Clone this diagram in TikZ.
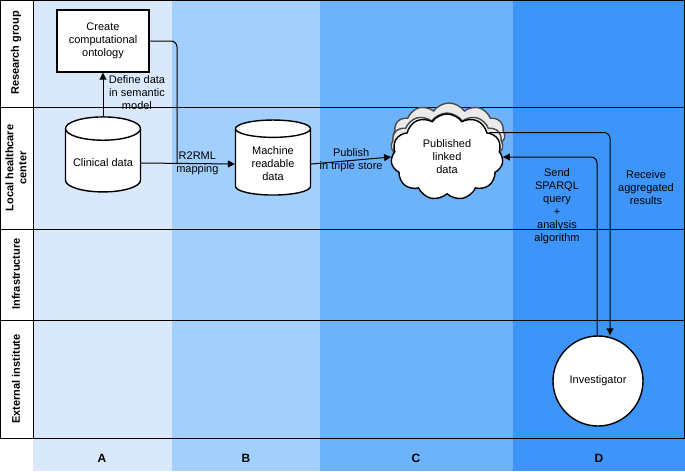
\documentclass[tikz,border=0pt]{standalone}
\usepackage{fontspec}
\setmainfont{Liberation Sans}
\usetikzlibrary{positioning,shapes.geometric,shapes.symbols,arrows.meta}
\definecolor{colA}{HTML}{DAE8FC}
\definecolor{colB}{HTML}{A3CFFD}
\definecolor{colC}{HTML}{6DB3FB}
\definecolor{colD}{HTML}{3D95FA}
\tikzset{
  lbl/.style={font=\fontsize{11}{13}\selectfont,align=center},
  lane/.style={font=\bfseries\fontsize{11}{13}\selectfont,align=center,rotate=90},
  db/.style={cylinder,shape border rotate=90,draw,line width=1.4pt,fill=white,aspect=0.35,
    minimum width=75pt,minimum height=75pt,lbl},
  cld/.style={cloud,cloud puffs=11,cloud puff arc=110,draw,line width=1.4pt,fill=white,
    minimum width=112pt,minimum height=62pt,lbl},
  arrow/.style={-{Triangle[length=7pt,width=7pt]},line width=1pt,rounded corners=6pt},
  line/.style={line width=1pt,rounded corners=6pt}
}
\begin{document}
\begin{tikzpicture}[x=1pt,y=-1pt]
  %Background
  \useasboundingbox (0,0) rectangle (685,471);
  \fill[white] (0,0) rectangle (685,471);
  \fill[colA] (33,0) rectangle (172,471);
  \fill[colB] (172,0) rectangle (320,471);
  \fill[colC] (320,0) rectangle (513,471);
  \fill[colD] (513,0) rectangle (685,471);
  \draw[line width=1pt] (0.5,0.5) rectangle (684.5,438);
  \draw[line width=1pt] (33,0.5) -- (33,438);
  \foreach \y in {107,229,320} \draw[line width=1pt] (0.5,\y) -- (684.5,\y);
  
  %Lanes
  \node[lane] at (16,53) {Research group};
  \node[lane] at (16,168) {Local healthcare\\center};
  \node[lane] at (16,274) {Infrastructure};
  \node[lane] at (16,379) {External institute};
  \node[font=\bfseries\fontsize{12}{14}\selectfont] (colLabA) at (102,458) {A};
  \node[font=\bfseries\fontsize{12}{14}\selectfont] (colLabB) at (246,458) {B};
  \node[font=\bfseries\fontsize{12}{14}\selectfont] (colLabC) at (416,458) {C};
  \node[font=\bfseries\fontsize{12}{14}\selectfont] (colLabD) at (599,458) {D};
  
  %Nodes
  \node[draw,line width=1.4pt,fill=white,minimum width=92pt,minimum height=62pt,lbl] (onto) at (103,41) {Create\\computational\\ontology};
  \node[db] (clinical) at (103,163) {Clinical data};
  \node[db] (machine) at (273,164) {Machine\\readable\\data};
  \node[cld,fill=white!92!black,draw=black!70] at (449,134) {};
  \node[cld,fill=white!92!black,draw=black!70] at (447,144) {};
  \node[cld] (linked) at (447,157) {Published\\linked\\data};
  \node[circle,draw,line width=1.4pt,fill=white,minimum size=90pt,lbl] (invest) at (598,381) {Investigator};
  \coordinate (mapJoin) at (177,164);
  
  %Arrows
  \draw[arrow] (clinical.top) -- node[right=2pt,lbl,pos=0.55] {Define data\\in semantic\\model} (onto.south);
  \draw[line] (onto.east) -| (mapJoin);
  \draw[arrow] (clinical.east) -- node[lbl,pos=0.6] {R2RML\\mapping} (machine.west);
  \draw[arrow] (machine.east) -- node[lbl,pos=0.5] {Publish\\in triple store} (linked.west);
  \draw[arrow] (invest.north) ++(-1,0) |- (linked.east);
  \draw[arrow] (linked.30) -| ([xshift=12pt]invest.north);
  \node[lbl] (sendLbl) at (557,206) {Send\\SPARQL\\query\\+\\analysis\\algorithm};
  \node[lbl] (recvLbl) at (646,188) {Receive\\aggregated\\results};
\end{tikzpicture}
\end{document}
